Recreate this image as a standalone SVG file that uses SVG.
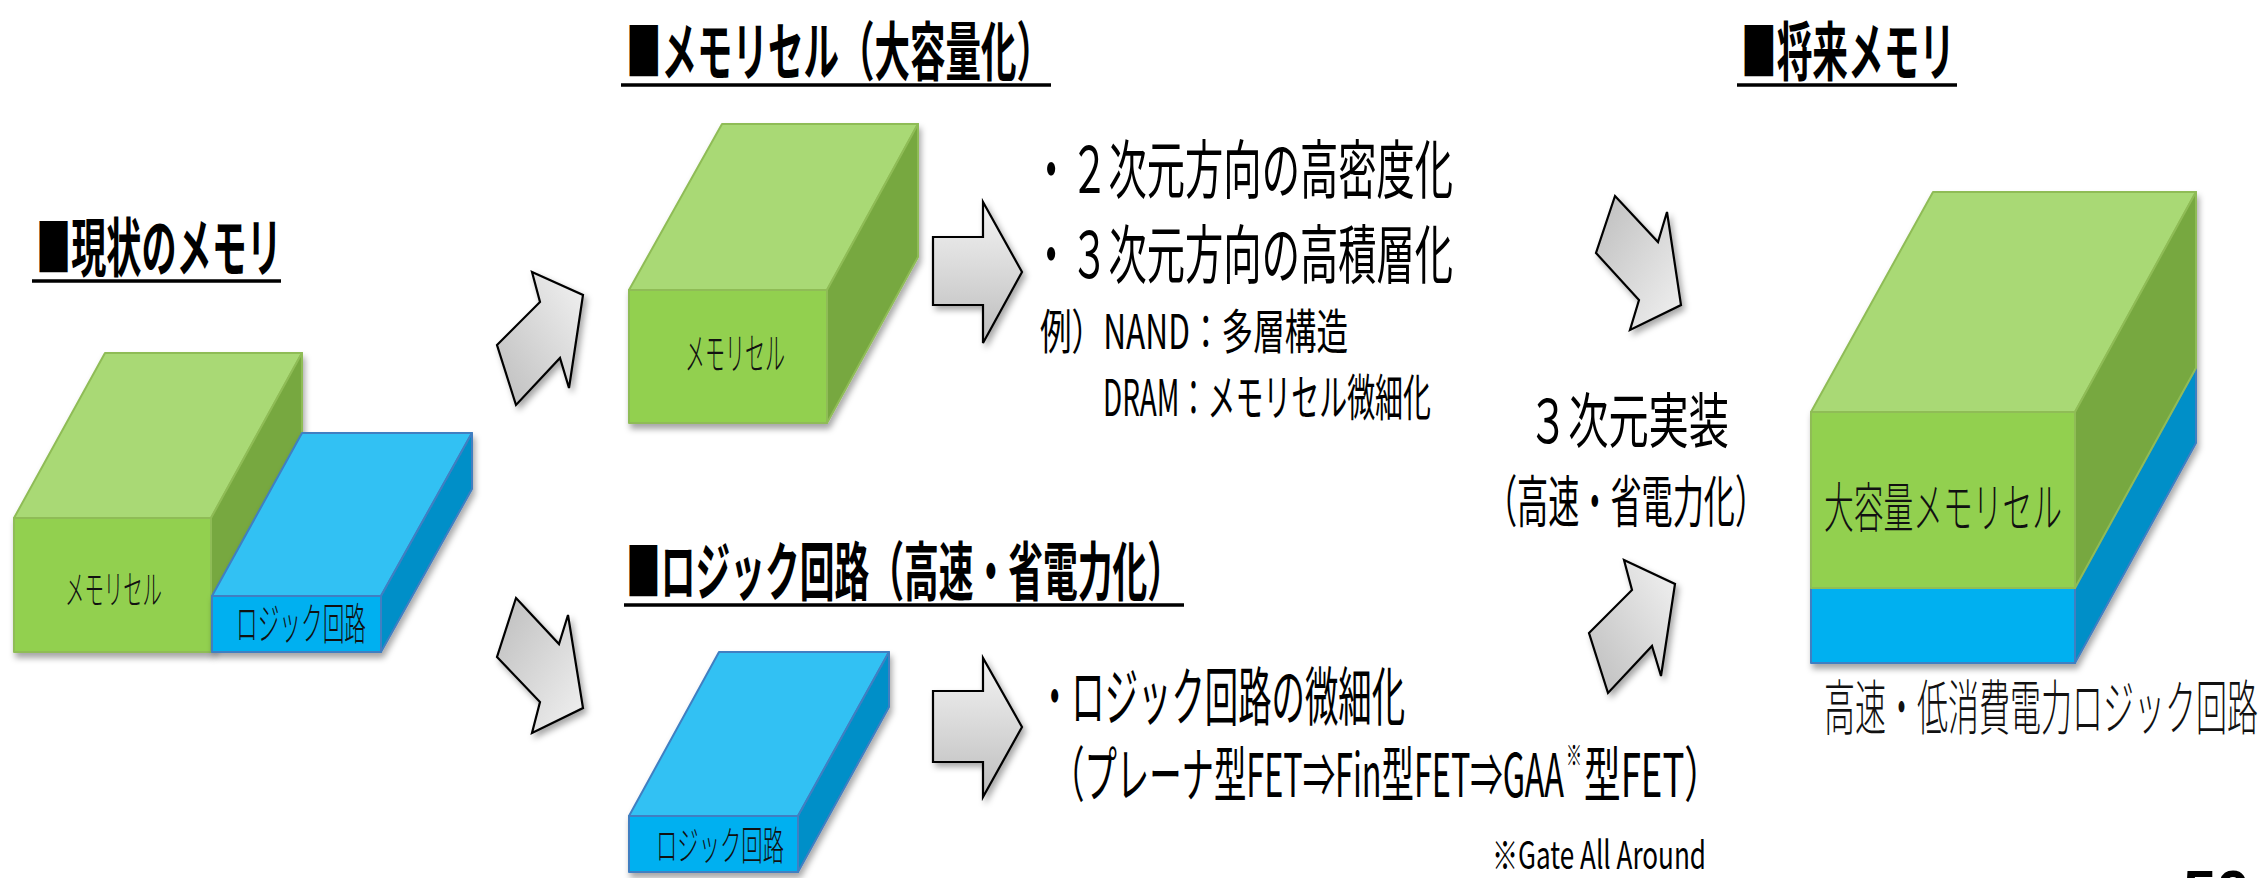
<svg xmlns="http://www.w3.org/2000/svg" width="2264" height="878" viewBox="0 0 2264 878">
  <defs>
    <style>
      .title { font-family: "Noto Sans CJK JP", "Noto Sans CJK SC", sans-serif; font-weight: 700; fill: #000; }
      .body { font-family: "Noto Sans CJK JP", "Noto Sans CJK SC", sans-serif; font-weight: 400; fill: #000; }
      .label { font-family: "Noto Sans CJK JP", "Noto Sans CJK SC", sans-serif; font-weight: 300; fill: #111; }
      .ul { stroke: #000; stroke-width: 3.5; }
      .g-front { fill: #92d050; }
      .g-top { fill: #a9d974; }
      .g-side { fill: #77a83f; }
      .g-edge { stroke: #8fbc57; stroke-width: 2; stroke-linejoin: round; }
      .b-front { fill: #00b0f0; }
      .b-top { fill: #33c1f3; }
      .b-side { fill: #008fc8; }
      .b-edge { stroke: #3f7fc2; stroke-width: 2; stroke-linejoin: round; }
      .arrow { stroke: #000; stroke-width: 2.2; stroke-linejoin: miter; filter: url(#arrowShadow); }
      .box { filter: url(#boxShadow); }
    </style>
    <linearGradient id="gradH" x1="0" y1="0" x2="0" y2="1">
      <stop offset="0" stop-color="#f4f4f4"/>
      <stop offset="1" stop-color="#bdbdbd"/>
    </linearGradient>
    <linearGradient id="gradUp" x1="0" y1="1" x2="1" y2="0">
      <stop offset="0" stop-color="#bdbdbd"/>
      <stop offset="1" stop-color="#f2f2f2"/>
    </linearGradient>
    <linearGradient id="gradDown" x1="0" y1="0" x2="1" y2="1">
      <stop offset="0" stop-color="#bdbdbd"/>
      <stop offset="1" stop-color="#f2f2f2"/>
    </linearGradient>
    <filter id="arrowShadow" x="-20%" y="-20%" width="150%" height="150%">
      <feDropShadow dx="3" dy="4" stdDeviation="3" flood-color="#000" flood-opacity="0.35"/>
    </filter>
    <filter id="boxShadow" x="-10%" y="-10%" width="125%" height="130%">
      <feDropShadow dx="2" dy="5" stdDeviation="3" flood-color="#000" flood-opacity="0.35"/>
    </filter>
  </defs>

  <rect width="2264" height="878" fill="#fff"/>

  <!-- Section headings -->
  <g id="title-current">
    <text class="title" x="36" y="271" font-size="64" textLength="246" lengthAdjust="spacingAndGlyphs">■現状のメモリ</text>
    <line class="ul" x1="32" y1="281" x2="281" y2="281"/>
  </g>
  <g id="title-memory">
    <text class="title" x="626" y="75" font-size="64" textLength="426" lengthAdjust="spacingAndGlyphs">■メモリセル（大容量化）</text>
    <line class="ul" x1="621" y1="85" x2="1051" y2="85"/>
  </g>
  <g id="title-logic">
    <text class="title" x="626" y="595" font-size="64" textLength="556" lengthAdjust="spacingAndGlyphs">■ロジック回路（高速・省電力化）</text>
    <line class="ul" x1="624" y1="605" x2="1184" y2="605"/>
  </g>
  <g id="title-future">
    <text class="title" x="1741" y="75" font-size="64" textLength="214" lengthAdjust="spacingAndGlyphs">■将来メモリ</text>
    <line class="ul" x1="1737" y1="85" x2="1957" y2="85"/>
  </g>

  <!-- Current memory: memory cell block beside logic block -->
  <g id="current-memory">
    <g class="box">
      <polygon class="g-top g-edge" points="14,518 105,353 302,353 211,518"/>
      <polygon class="g-side g-edge" points="211,518 302,353 302,487 211,652"/>
      <rect class="g-front g-edge" x="14" y="518" width="197" height="134"/>
    </g>
    <g class="box">
      <polygon class="b-top b-edge" points="212,596 302,433 472,433 381,596"/>
      <polygon class="b-side b-edge" points="381,596 472,433 472,489 381,652"/>
      <rect class="b-front b-edge" x="212" y="596" width="169" height="56"/>
    </g>
    <text class="label" x="65" y="604" font-size="40" textLength="97" lengthAdjust="spacingAndGlyphs">メモリセル</text>
    <text class="label" x="236" y="640" font-size="44" textLength="130" lengthAdjust="spacingAndGlyphs">ロジック回路</text>
  </g>

  <!-- Memory cell block -->
  <g id="memory-cell">
    <g class="box">
      <polygon class="g-top g-edge" points="629,290 722,124 918,124 827,290"/>
      <polygon class="g-side g-edge" points="827,290 918,124 918,257 827,423"/>
      <rect class="g-front g-edge" x="629" y="290" width="198" height="133"/>
    </g>
    <text class="label" x="685" y="370" font-size="44" textLength="100" lengthAdjust="spacingAndGlyphs">メモリセル</text>
  </g>

  <!-- Logic circuit block -->
  <g id="logic-circuit">
    <g class="box">
      <polygon class="b-top b-edge" points="629,816 719,652 889,652 798,816"/>
      <polygon class="b-side b-edge" points="798,816 889,652 889,707 798,872"/>
      <rect class="b-front b-edge" x="629" y="816" width="169" height="56"/>
    </g>
    <text class="label" x="656" y="860" font-size="40" textLength="128" lengthAdjust="spacingAndGlyphs">ロジック回路</text>
  </g>

  <!-- Memory cell notes -->
  <g id="memory-notes">
    <text class="body" x="1032" y="193" font-size="64" textLength="421" lengthAdjust="spacingAndGlyphs">・２次元方向の高密度化</text>
    <text class="body" x="1032" y="278" font-size="64" textLength="421" lengthAdjust="spacingAndGlyphs">・３次元方向の高積層化</text>
    <text class="body" x="1040" y="349" font-size="48" textLength="308" lengthAdjust="spacingAndGlyphs">例）NAND：多層構造</text>
    <text class="body" x="1103" y="416" font-size="50" textLength="328" lengthAdjust="spacingAndGlyphs">DRAM：メモリセル微細化</text>
  </g>

  <!-- Logic circuit notes -->
  <g id="logic-notes">
    <text class="body" x="1038" y="720" font-size="64" textLength="367" lengthAdjust="spacingAndGlyphs">・ロジック回路の微細化</text>
    <text class="body" x="1052" y="797" font-size="60" textLength="512" lengthAdjust="spacingAndGlyphs">（プレーナ型FET⇒Fin型FET⇒GAA</text>
    <text class="body" x="1566" y="766" font-size="28" textLength="16" lengthAdjust="spacingAndGlyphs">※</text>
    <text class="body" x="1584" y="797" font-size="60" textLength="137" lengthAdjust="spacingAndGlyphs">型FET）</text>
    <text class="body" x="1492" y="869" font-size="38" textLength="214" lengthAdjust="spacingAndGlyphs">※Gate All Around</text>
  </g>

  <!-- 3D integration caption -->
  <g id="integration">
    <text class="body" x="1528" y="443" font-size="60" textLength="201" lengthAdjust="spacingAndGlyphs">３次元実装</text>
    <text class="body" x="1486" y="522" font-size="56" textLength="280" lengthAdjust="spacingAndGlyphs">（高速・省電力化）</text>
  </g>

  <!-- Future memory: memory cell stacked on logic -->
  <g id="future-memory">
    <g class="box">
      <polygon class="b-side b-edge" points="2075,588 2196,368 2196,443 2075,663"/>
      <rect class="b-front b-edge" x="1811" y="588" width="264" height="75"/>
      <polygon class="g-top g-edge" points="1811,412 1933,192 2196,192 2075,412"/>
      <polygon class="g-side g-edge" points="2075,412 2196,192 2196,368 2075,588"/>
      <rect class="g-front g-edge" x="1811" y="412" width="264" height="176"/>
    </g>
    <text class="label" x="1824" y="528" font-size="54" textLength="238" lengthAdjust="spacingAndGlyphs">大容量メモリセル</text>
    <text class="label" x="1824" y="730" font-size="60" textLength="434" lengthAdjust="spacingAndGlyphs">高速・低消費電力ロジック回路</text>
  </g>

  <!-- Block arrows -->
  <g id="connectors">
    <polygon class="arrow" fill="url(#gradUp)" points="532,272 583,295 569,388 560,358 516,405 497,345 540,302"/>
    <polygon class="arrow" fill="url(#gradDown)" points="516,598 559,644 568,615 583,708 532,733 540,702 497,657"/>
    <polygon class="arrow" fill="url(#gradH)" points="933,237 983,237 983,202 1022,272 983,343 983,305 933,305"/>
    <polygon class="arrow" fill="url(#gradH)" points="933,691 983,691 983,658 1022,727 983,797 983,762 933,762"/>
    <polygon class="arrow" fill="url(#gradDown)" points="1615,196 1658,242 1667,212 1681,305 1630,330 1639,300 1596,253"/>
    <polygon class="arrow" fill="url(#gradUp)" points="1624,560 1675,584 1661,676 1652,646 1608,693 1589,633 1632,590"/>
  </g>

  <!-- Page number at the bottom edge -->
  <text id="page-number" x="2183" y="912" font-family="Liberation Sans, sans-serif" font-weight="700" font-size="60">50</text>
</svg>
